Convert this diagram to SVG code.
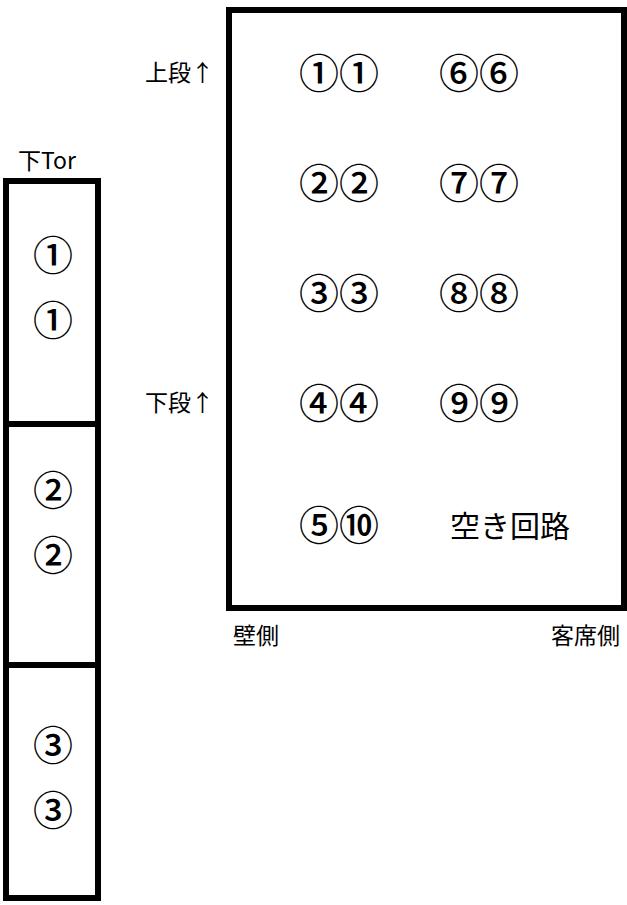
<svg xmlns="http://www.w3.org/2000/svg" width="627" height="905" viewBox="0 0 627 905">
<style>
.box{fill:none;stroke:#000;stroke-width:6}
.t{font-family:"Noto Sans CJK JP","Liberation Sans",sans-serif;fill:#000}
.c{font-size:40px;font-weight:500}
.l{font-size:23px}
</style>
<rect width="627" height="905" fill="#fff"/>
<g id="panel">
<rect class="box" x="229" y="10" width="395" height="598"/>
<text class="t c" x="299" y="88">①①</text>
<text class="t c" x="439" y="88">⑥⑥</text>
<text class="t c" x="299" y="198">②②</text>
<text class="t c" x="439" y="198">⑦⑦</text>
<text class="t c" x="299" y="308">③③</text>
<text class="t c" x="439" y="308">⑧⑧</text>
<text class="t c" x="299" y="418">④④</text>
<text class="t c" x="439" y="418">⑨⑨</text>
<text class="t c" x="299" y="540">⑤⑩</text>
<text class="t" x="450" y="537" font-size="30">空き回路</text>
</g>
<g id="labels">
<text class="t l" x="145" y="81">上段↑</text>
<text class="t l" x="145" y="411">下段↑</text>
<text class="t l" x="233" y="644">壁側</text>
<text class="t l" x="551" y="644">客席側</text>
<text class="t l" x="18" y="169">下Tor</text>
</g>
<g id="tor">
<rect class="box" x="6" y="181" width="92" height="717"/>
<line x1="6" y1="424" x2="98" y2="424" stroke="#000" stroke-width="6"/>
<line x1="6" y1="665" x2="98" y2="665" stroke="#000" stroke-width="6"/>
<text class="t c" x="53" y="270" text-anchor="middle">①</text>
<text class="t c" x="53" y="335" text-anchor="middle">①</text>
<text class="t c" x="53" y="505" text-anchor="middle">②</text>
<text class="t c" x="53" y="570" text-anchor="middle">②</text>
<text class="t c" x="53" y="760" text-anchor="middle">③</text>
<text class="t c" x="53" y="825" text-anchor="middle">③</text>
</g>
</svg>
